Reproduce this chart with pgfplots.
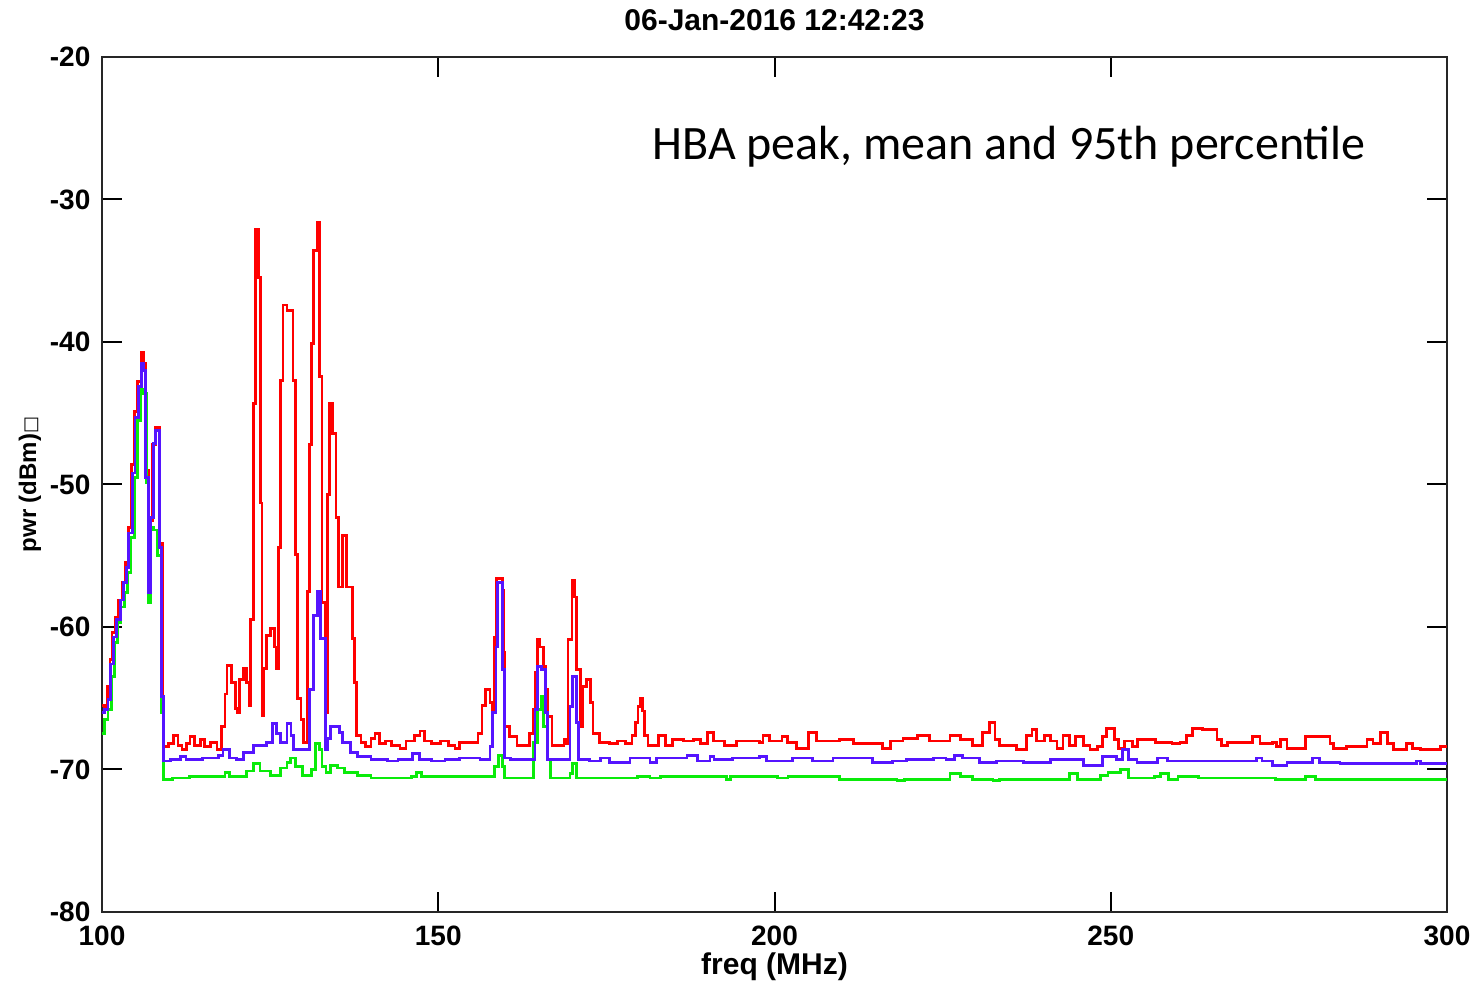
\documentclass[border=0pt]{standalone}
\usepackage{fontspec}
\setmainfont{Liberation Sans}
\newfontfamily\calibri{Carlito}
\newfontfamily\dejavu{DejaVu Sans}
\usepackage{pgfplots}
\pgfplotsset{compat=1.18}
\definecolor{cred}{RGB}{255,0,0}
\definecolor{cblue}{RGB}{85,20,255}
\definecolor{cgreen}{RGB}{10,235,10}
\begin{document}
\begin{tikzpicture}
\useasboundingbox (-51pt,-35.5pt) rectangle (690.5pt,456pt);
\begin{axis}[
  at={(0,0)}, anchor=south west,
  scale only axis, width=672.5pt, height=427.5pt,
  xmin=100, xmax=300, ymin=-80, ymax=-20,
  xtick={100,150,200,250,300}, ytick={-80,-70,-60,-50,-40,-30,-20},
  tick align=inside, major tick length=10pt,
  tick style={line width=1pt, black},
  axis line style={line width=1.3pt, black!85},
  /pgf/number format/assume math mode=true,
  ticklabel style={font=\fontsize{14}{14}\selectfont\bfseries},
  xticklabel style={yshift=-3.3pt},
  yticklabel style={xshift=-2.3pt},
  xlabel={freq (MHz)},
  xlabel style={font=\fontsize{15}{15}\selectfont\bfseries, at={(axis description cs:0.5,-0.0643)}, anchor=center},
  ylabel={pwr (dBm){\dejavu\fontsize{9}{9}\selectfont □}},
  ylabel style={font=\fontsize{12}{12}\selectfont\bfseries, at={(axis description cs:-0.0535,0.5)}, anchor=center, rotate=0},
  every axis plot/.append style={const plot, line width=1.4pt},
  clip=true,
]
\addplot[cred] coordinates {(100,-65.5)(100.4,-65.6)(100.8,-64.2)(101.2,-62.3)(101.5,-60.4)(102.0,-59.3)(102.5,-58.1)(103.0,-56.9)(103.5,-55.5)(103.9,-53.0)(104.4,-48.6)(104.8,-44.9)(105.3,-42.8)(105.8,-40.7)(106.2,-41.5)(106.5,-49.0)(107.0,-52.5)(107.5,-47.2)(108.0,-46.0)(108.5,-54.1)(109.0,-64.9)(109.2,-68.4)(109.9,-68.2)(110.6,-67.6)(111.3,-68.3)(111.9,-68.6)(112.6,-68.2)(113.1,-67.7)(113.8,-68.3)(114.6,-67.9)(115.3,-68.4)(116.1,-68.1)(117.1,-68.6)(117.8,-67.0)(118.3,-64.7)(118.6,-62.7)(119.3,-63.9)(119.8,-65.7)(120.1,-66.0)(120.5,-63.7)(121.0,-62.9)(121.5,-63.9)(121.9,-65.5)(122.1,-59.5)(122.5,-44.3)(122.8,-32.1)(123.3,-35.5)(123.6,-51.3)(123.8,-66.2)(124.1,-62.9)(124.5,-60.6)(125.1,-60.1)(125.6,-61.4)(126.0,-62.9)(126.2,-54.4)(126.6,-42.7)(126.9,-37.4)(127.5,-37.8)(128.4,-42.7)(128.8,-54.9)(129.1,-65.0)(129.6,-66.5)(130.0,-68.1)(130.5,-57.5)(130.9,-47.2)(131.2,-40.1)(131.5,-33.6)(132.0,-31.6)(132.4,-42.4)(132.7,-58.3)(133.2,-66.0)(133.5,-50.7)(133.8,-44.3)(134.3,-46.4)(134.8,-52.3)(135.2,-57.2)(135.8,-53.6)(136.4,-57.2)(137.2,-60.8)(137.6,-63.9)(137.9,-67.6)(138.5,-68.1)(139.2,-68.4)(140.0,-67.8)(140.6,-67.5)(141.3,-68.2)(142.2,-68.0)(143.0,-68.3)(144.3,-68.5)(145.2,-68.0)(146.5,-67.6)(147.3,-67.3)(148.0,-68.0)(149.0,-68.2)(150.3,-68.0)(151.5,-68.3)(152.5,-68.5)(153.2,-68.1)(155.2,-68.1)(155.9,-67.5)(156.5,-65.5)(157.0,-64.4)(157.7,-65.3)(158.1,-66.0)(158.4,-60.7)(158.7,-56.6)(159.5,-57.4)(159.7,-61.8)(159.9,-67.0)(160.6,-67.7)(161.7,-68.3)(163.6,-67.5)(164.1,-65.8)(164.4,-63.2)(164.7,-60.9)(165.1,-61.4)(165.6,-62.8)(166.0,-64.4)(166.3,-66.3)(166.9,-68.3)(168.7,-67.9)(169.0,-68.2)(169.3,-60.9)(169.9,-56.7)(170.3,-57.9)(170.6,-63.0)(171.1,-67.0)(171.5,-64.2)(172.1,-63.7)(172.6,-65.3)(173.0,-67.5)(174.0,-68.1)(175.5,-68.2)(176.6,-68.0)(177.8,-68.2)(178.8,-67.6)(179.3,-66.7)(179.7,-65.6)(180.1,-65.0)(180.4,-65.9)(180.7,-67.6)(181.2,-68.3)(182.7,-67.6)(183.8,-68.3)(184.8,-67.9)(186.5,-68.0)(187.9,-67.9)(189.0,-68.2)(190.0,-67.4)(190.9,-68.0)(192.6,-68.3)(194.4,-68.0)(197.8,-68.1)(198.3,-67.6)(199.3,-68.0)(201.1,-67.7)(201.9,-68.1)(203.3,-68.5)(205.0,-67.4)(206.3,-68.0)(209.7,-67.9)(211.7,-68.2)(215.2,-68.2)(216.1,-68.5)(217.2,-68.0)(219.1,-67.8)(221.3,-67.6)(223.1,-68.0)(226.1,-67.6)(227.6,-67.9)(229.5,-68.3)(230.9,-67.4)(232.0,-66.7)(232.8,-67.9)(233.5,-68.3)(236.0,-68.6)(237.5,-67.6)(238.3,-67.2)(239.0,-68.0)(240.2,-67.6)(241.0,-68.0)(242.0,-68.5)(242.9,-67.6)(243.9,-68.3)(244.7,-67.7)(245.9,-68.3)(246.9,-68.6)(248.0,-68.4)(248.8,-67.7)(249.4,-67.1)(250.6,-67.9)(251.1,-68.5)(252.1,-68.0)(253.2,-68.4)(254.0,-67.9)(256.6,-68.1)(259.1,-68.2)(260.3,-68.1)(261.3,-67.6)(262.2,-67.1)(263.7,-67.2)(265.8,-67.9)(266.5,-68.3)(267.3,-68.1)(271.1,-67.7)(272.2,-68.2)(274.1,-68.1)(274.7,-68.4)(275.2,-67.9)(276.2,-68.5)(278.9,-67.7)(282.6,-68.2)(283.1,-68.5)(285.1,-68.4)(288.1,-67.9)(289.0,-68.2)(290.1,-67.4)(291.1,-68.2)(292.0,-68.6)(294.0,-68.2)(294.9,-68.5)(296.0,-68.6)(299.0,-68.4)(300,-68.4)};
\addplot[cgreen] coordinates {(100,-67.5)(100.4,-66.5)(100.9,-65.8)(101.4,-63.5)(101.8,-61.1)(102.3,-59.7)(102.8,-58.6)(103.3,-57.6)(103.8,-56.2)(104.3,-53.7)(104.8,-49.5)(105.3,-45.5)(105.8,-43.3)(106.2,-43.6)(106.6,-49.9)(106.9,-58.3)(107.2,-53.0)(107.7,-53.2)(108.2,-55.0)(108.9,-66.0)(109.1,-70.7)(110.5,-70.6)(113.0,-70.5)(116.0,-70.5)(118.3,-70.2)(119.0,-70.5)(121.5,-70.1)(122.5,-69.6)(123.5,-70.1)(125.0,-70.4)(126.5,-69.9)(127.5,-69.5)(128.0,-69.2)(128.8,-69.8)(129.8,-70.4)(131.2,-70.0)(131.7,-68.2)(132.4,-68.6)(132.7,-69.8)(133.3,-70.2)(134.0,-69.7)(135.0,-69.9)(136.0,-70.2)(138.0,-70.4)(140.0,-70.6)(146.0,-70.5)(146.8,-70.2)(147.5,-70.5)(152.0,-70.5)(158.4,-69.8)(158.9,-69.0)(159.5,-69.8)(159.9,-70.6)(164.2,-68.1)(164.7,-65.8)(165.3,-64.9)(165.7,-67.0)(166.2,-69.3)(166.7,-70.6)(169.6,-70.3)(170.0,-69.6)(170.6,-70.6)(179.6,-70.5)(181.5,-70.6)(183.0,-70.5)(192.9,-70.7)(193.5,-70.5)(200.4,-70.6)(202.0,-70.5)(209.7,-70.7)(218.2,-70.8)(219.3,-70.7)(226.1,-70.3)(227.6,-70.5)(229.5,-70.7)(232.5,-70.8)(233.5,-70.7)(243.9,-70.3)(245.0,-70.7)(248.5,-70.4)(249.6,-70.2)(251.4,-70.0)(252.6,-70.6)(256.5,-70.5)(257.4,-70.3)(258.6,-70.7)(260.0,-70.5)(263.0,-70.6)(274.5,-70.7)(279.0,-70.5)(280.5,-70.7)(300,-70.7)};
\addplot[cblue] coordinates {(100,-66.0)(100.4,-65.8)(100.9,-65.1)(101.3,-62.6)(101.7,-60.7)(102.2,-59.5)(102.7,-58.1)(103.2,-56.9)(103.7,-55.8)(104.0,-53.4)(104.5,-49.2)(104.9,-45.3)(105.4,-43.1)(105.9,-41.5)(106.2,-42.0)(106.5,-49.5)(106.9,-57.6)(107.2,-52.3)(107.7,-47.1)(108.0,-46.2)(108.5,-54.4)(108.9,-64.9)(109.1,-69.4)(110.2,-69.3)(111.7,-69.1)(112.5,-69.3)(115.0,-69.2)(117.3,-69.0)(118.0,-68.6)(119.0,-69.2)(120.0,-69.3)(121.0,-68.8)(122.5,-68.3)(124.5,-68.1)(125.4,-66.8)(126.0,-67.5)(126.6,-68.1)(127.5,-66.8)(128.1,-67.6)(128.5,-68.6)(130.2,-68.6)(130.9,-64.4)(131.4,-59.2)(132.0,-57.5)(132.5,-60.8)(133.2,-68.6)(133.5,-67.8)(134.0,-67.0)(135.3,-67.4)(135.8,-68.1)(137.0,-68.8)(138.0,-69.1)(140.0,-69.3)(142.5,-69.4)(144.0,-69.3)(146.2,-68.9)(147.2,-69.3)(149.0,-69.4)(151.0,-69.3)(153.2,-69.2)(156.2,-69.3)(157.7,-68.4)(158.1,-66.0)(158.6,-61.4)(158.8,-56.9)(159.5,-63.0)(159.9,-69.2)(160.7,-69.3)(164.4,-65.8)(164.8,-62.8)(165.4,-63.0)(165.9,-66.0)(166.3,-69.3)(169.6,-65.6)(170.0,-63.5)(170.6,-66.7)(170.9,-69.3)(172.5,-69.4)(174.1,-69.2)(175.5,-69.5)(178.5,-69.2)(181.5,-69.5)(182.5,-69.2)(187.0,-69.0)(188.5,-69.4)(190.4,-69.1)(191.0,-69.3)(193.8,-69.2)(197.8,-69.1)(198.8,-69.4)(202.7,-69.2)(205.7,-69.4)(208.7,-69.2)(214.6,-69.5)(217.5,-69.4)(219.6,-69.3)(223.6,-69.2)(225.5,-69.3)(226.8,-69.0)(228.0,-69.2)(230.5,-69.5)(233.0,-69.4)(237.0,-69.5)(239.5,-69.5)(241.0,-69.3)(245.9,-69.7)(248.8,-69.1)(250.9,-69.3)(251.7,-68.6)(252.6,-69.3)(253.9,-69.5)(256.9,-69.2)(258.4,-69.4)(271.7,-69.2)(272.5,-69.4)(274.1,-69.7)(276.2,-69.5)(280.0,-69.2)(281.0,-69.5)(284.1,-69.6)(295.5,-69.4)(296.0,-69.6)(300,-69.6)};
\node[anchor=base west, font=\calibri\fontsize{24}{24}\selectfont, inner sep=0pt] at (axis cs:181.8,-27.2) {HBA peak, mean and 95th percentile};
\end{axis}
\node[font=\fontsize{15}{15}\selectfont\bfseries, anchor=center] at ([yshift=18.5pt]current axis.north) {06-Jan-2016 12:42:23};
\end{tikzpicture}
\end{document}
